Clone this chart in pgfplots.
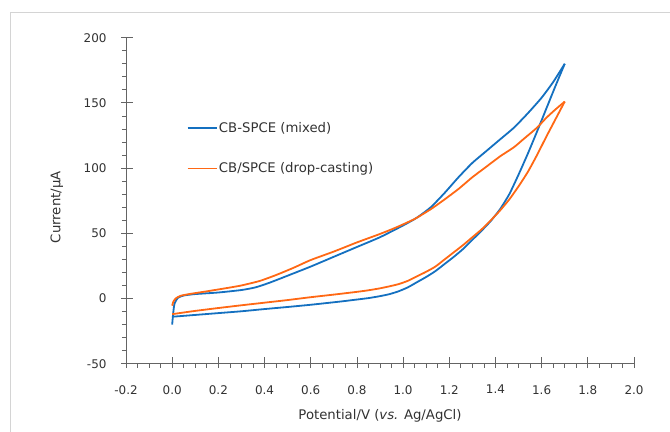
\documentclass[border=0pt]{standalone}
\usepackage{pgfplots}
\pgfplotsset{compat=1.18}
\usepackage{fontspec}
\setmainfont{DejaVu Sans}
\definecolor{cvblue}{RGB}{20,112,192}
\definecolor{cvorange}{RGB}{255,104,20}
\definecolor{axgray}{RGB}{100,100,100}
\definecolor{txtgray}{RGB}{50,50,50}
\definecolor{framegray}{RGB}{212,212,212}

\begin{document}
\begin{tikzpicture}
\path[use as bounding box] (0bp,0bp) rectangle (670bp,432bp);
\draw[framegray, line width=0.9bp] (10bp,0bp) -- (10bp,419.5bp) -- (670bp,419.5bp);
\begin{axis}[
  at={(126bp,68.3bp)}, anchor=south west,
  scale only axis, width=508bp, height=326bp,
  xmin=-0.2, xmax=2.0, ymin=-50, ymax=200,
  axis lines*=left,
  axis line style={axgray, line width=0.8bp},
  every tick/.style={axgray, line width=0.8bp},
  xtick={-0.2,0,0.2,0.4,0.6,0.8,1.0,1.2,1.4,1.6,1.8,2.0},
  xticklabels={-0.2,0.0,0.2,0.4,0.6,0.8,1.0,1.2,1.4,1.6,1.8,2.0},
  ytick={-50,0,50,100,150,200},
  yticklabels={-50,0,50,100,150,200},
  minor x tick num=3, minor y tick num=4,
  tick align=outside,
  major tick length=11bp, minor tick length=4bp,
  major x tick style={yshift=6.5bp},
  major y tick style={xshift=6.5bp},
  ticklabel style={font=\fontsize{12}{14}\selectfont, text=txtgray},
  xticklabel style={yshift=-7bp},
  yticklabel style={xshift=-5bp},
  xlabel={Potential/V (\textit{vs.} Ag/AgCl)},
  ylabel={Current/µA},
  label style={font=\fontsize{13.3}{15}\selectfont, text=txtgray},
  xlabel style={at={(axis description cs:0.5,-0.16)}, anchor=center},
  ylabel style={at={(axis description cs:-0.136,0.48)}, anchor=center},
  legend style={draw=none, fill=none, at={(axis cs:0.062,115.3)}, anchor=west,
    font=\fontsize{13.3}{15}\selectfont, text=txtgray, row sep=26bp,
    inner sep=0pt, nodes={inner sep=1.5bp}},
  legend cell align=left,
  legend image code/.code={\draw[#1, line width=1.8bp] (0bp,0bp) -- (29bp,0bp);},
  clip=false,
]
% CB-SPCE (mixed): anodic sweep
\addplot[cvblue, line width=1.8bp, smooth, tension=0.35] coordinates {
(0.000,-20) (0.004,-12) (0.010,-4) (0.025,0.5) (0.05,2.3) (0.10,3.4)
(0.20,4.6) (0.30,6.5) (0.36,8.5) (0.42,12) (0.50,17.5) (0.60,24.5)
(0.70,32) (0.80,39.5) (0.90,47) (1.00,56) (1.06,62) (1.12,70) (1.18,81)
(1.24,93) (1.30,104) (1.36,113) (1.42,122) (1.48,131) (1.54,142)
(1.60,154) (1.65,166) (1.70,180)
};
\addlegendentry{CB-SPCE (mixed)}
% CB-SPCE (mixed): cathodic sweep
\addplot[cvblue, line width=1.8bp, smooth, tension=0.35, forget plot] coordinates {
(1.70,180) (1.66,163) (1.62,145.5) (1.58,128) (1.54,111) (1.50,95)
(1.46,80) (1.42,68.5) (1.38,59.5) (1.34,52) (1.30,45) (1.26,38)
(1.22,32) (1.18,26.5) (1.14,21) (1.10,16.5) (1.06,12.5) (1.02,8.5)
(0.98,5.5) (0.94,3.3) (0.90,1.8) (0.85,0.3) (0.80,-0.8) (0.73,-2.3)
(0.60,-4.8) (0.50,-6.5) (0.40,-8.1) (0.30,-9.8) (0.20,-11.2)
(0.10,-12.6) (0.00,-14)
};
% CB/SPCE (drop-casting): anodic sweep
\addplot[cvorange, line width=1.8bp, smooth, tension=0.35] coordinates {
(0.000,-5.5) (0.005,-2.5) (0.015,0) (0.035,2) (0.077,3.5) (0.15,5.5)
(0.236,8) (0.30,10) (0.38,13.5) (0.45,18) (0.525,23.5) (0.60,29.5)
(0.70,36) (0.80,43) (0.90,49.5) (0.97,54.5) (1.05,61) (1.12,68.5)
(1.18,76) (1.24,84) (1.30,93) (1.36,101) (1.42,109) (1.48,116)
(1.52,122) (1.58,131) (1.62,138.5) (1.66,145) (1.70,151)
};
\addlegendentry{CB/SPCE (drop-casting)}
% CB/SPCE (drop-casting): cathodic sweep
\addplot[cvorange, line width=1.8bp, smooth, tension=0.35, forget plot] coordinates {
(1.70,151) (1.66,137.5) (1.62,124) (1.58,110) (1.54,97) (1.50,86)
(1.46,76) (1.42,67.5) (1.38,60) (1.34,53) (1.30,47) (1.26,41)
(1.22,35.5) (1.18,30) (1.14,24.5) (1.10,20.5) (1.06,17) (1.02,13.5)
(0.98,11) (0.94,9.3) (0.90,7.8) (0.85,6.3) (0.80,5.1) (0.70,3)
(0.60,1) (0.50,-1.2) (0.40,-3.2) (0.30,-5.2) (0.20,-7.3) (0.10,-9.5)
(0.00,-12)
};
\end{axis}
\end{tikzpicture}
\end{document}
